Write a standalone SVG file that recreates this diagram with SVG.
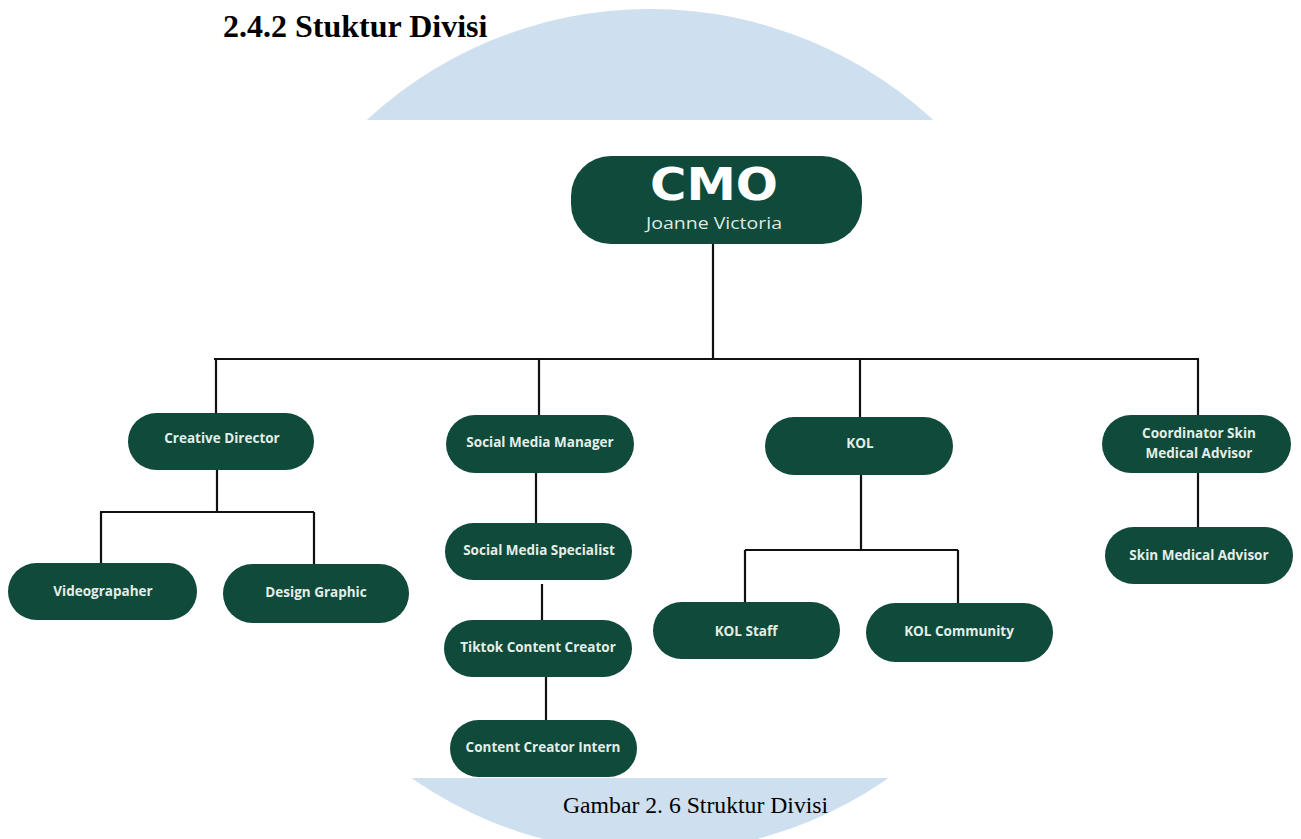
<svg xmlns="http://www.w3.org/2000/svg" width="1301" height="839" viewBox="0 0 1301 839">
<style>
.node rect{fill:#0f4a3a;}
.lbl{font-family:"Open Sans","Liberation Sans",sans-serif;font-weight:700;font-size:13.5px;fill:#e4eee8;text-anchor:middle;}
#connectors path{fill:none;stroke:#111;stroke-width:2.2;}
.serif{font-family:"Liberation Serif","Times New Roman",serif;fill:#000;}
</style>
<rect width="1301" height="839" fill="#fff"/>
<ellipse cx="650" cy="431" rx="419" ry="422" fill="#cedff0"/>
<rect x="0" y="120" width="1301" height="658" fill="#fff"/>
<text class="serif" x="223" y="37" font-size="32" font-weight="700">2.4.2 Stuktur Divisi</text>
<text class="serif" x="563" y="813" font-size="23.7">Gambar 2. 6 Struktur Divisi</text>

<g id="connectors">
<path d="M713 244 V359"/>
<path d="M214 359 H1199"/>
<path d="M216 359 V413"/>
<path d="M539 359 V428"/>
<path d="M860 359 V417"/>
<path d="M1198 359 V415"/>
<path d="M217 470 V512 M100 512 H314 M101 512 V577 M314 512 V578"/>
<path d="M536 473 V537"/>
<path d="M542 584 V620"/>
<path d="M546 677 V720"/>
<path d="M861 475 V550 M745 550 H958 M745 550 V613 M958 550 V618"/>
<path d="M1198 473 V542"/>
</g>

<g id="cmo" class="node">
<rect x="571" y="156" width="291" height="88" rx="40"/>
<text x="714" y="200" text-anchor="middle" font-family="'DejaVu Sans',sans-serif" font-weight="700" font-size="44" fill="#fff" textLength="128" lengthAdjust="spacingAndGlyphs">CMO</text>
<text x="714" y="229" text-anchor="middle" font-family="'Open Sans','Liberation Sans',sans-serif" font-size="16" fill="#dfe9e3" textLength="136" lengthAdjust="spacingAndGlyphs">Joanne Victoria</text>
</g>
<g id="creative-director" class="node">
<rect x="128" y="413" width="186" height="57" rx="28.5"/>
<text class="lbl" x="222" y="443">Creative Director</text>
</g>
<g id="videographer" class="node">
<rect x="8" y="563" width="189" height="57" rx="28.5"/>
<text class="lbl" x="103" y="596">Videograpaher</text>
</g>
<g id="design-graphic" class="node">
<rect x="223" y="564" width="186" height="59" rx="29.5"/>
<text class="lbl" x="316" y="597">Design Graphic</text>
</g>
<g id="smm" class="node">
<rect x="446" y="415" width="188" height="58" rx="29"/>
<text class="lbl" x="540" y="447">Social Media Manager</text>
</g>
<g id="sms" class="node">
<rect x="445" y="523" width="187" height="57" rx="28.5"/>
<text class="lbl" x="539" y="555">Social Media Specialist</text>
</g>
<g id="tcc" class="node">
<rect x="444" y="620" width="188" height="57" rx="28.5"/>
<text class="lbl" x="538" y="652">Tiktok Content Creator</text>
</g>
<g id="cci" class="node">
<rect x="450" y="720" width="187" height="57" rx="28.5"/>
<text class="lbl" x="543" y="752">Content Creator Intern</text>
</g>
<g id="kol" class="node">
<rect x="765" y="417" width="188" height="58" rx="29"/>
<text class="lbl" x="860" y="448">KOL</text>
</g>
<g id="kol-staff" class="node">
<rect x="653" y="602" width="187" height="57" rx="28.5"/>
<text class="lbl" x="746" y="636">KOL Staff</text>
</g>
<g id="kol-community" class="node">
<rect x="866" y="603" width="187" height="59" rx="29.5"/>
<text class="lbl" x="959" y="636">KOL Community</text>
</g>
<g id="coordinator" class="node">
<rect x="1102" y="415" width="189" height="58" rx="29"/>
<text class="lbl" x="1199" y="438">Coordinator Skin</text>
<text class="lbl" x="1199" y="458">Medical Advisor</text>
</g>
<g id="skin-medical-advisor" class="node">
<rect x="1105" y="527" width="188" height="57" rx="28.5"/>
<text class="lbl" x="1199" y="560">Skin Medical Advisor</text>
</g>
</svg>
